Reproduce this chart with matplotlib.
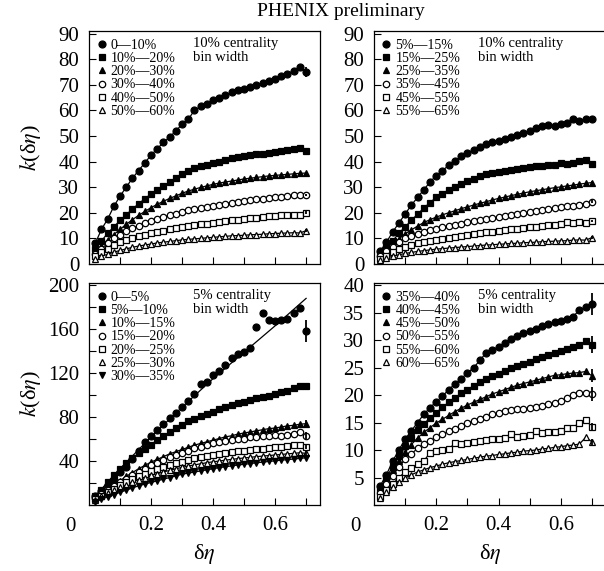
import matplotlib
matplotlib.use("Agg")
import matplotlib.pyplot as plt

plt.rcParams['font.family'] = ['Liberation Serif', 'DejaVu Serif']
plt.rcParams['mathtext.fontset'] = 'stix'

# delta eta bin centres
deta = [0.02, 0.04, 0.06, 0.08, 0.10, 0.12, 0.14, 0.16, 0.18, 0.20,
        0.22, 0.24, 0.26, 0.28, 0.30, 0.32, 0.34, 0.36, 0.38, 0.40,
        0.42, 0.44, 0.46, 0.48, 0.50, 0.52, 0.54, 0.56, 0.58, 0.60,
        0.62, 0.64, 0.66, 0.68, 0.70]

# top left: 10% centrality bins
tl_labels = ["0—10%", "10%—20%", "20%—30%", "30%—40%", "40%—50%", "50%—60%"]
tl_0_10 = [8, 13.5, 17.5, 22.5, 26.5, 30, 33.5, 36.5, 39.5, 42.5, 45, 47.5, 49.5, 52, 54.5, 56.5, 60, 61.5,
           62.5, 64, 65, 66, 67, 67.8, 68.5, 69.3, 70, 70.8, 71.5, 72.3, 73.3, 74.2, 75.5, 77, 75]
tl_10_20 = [6, 9, 12, 14.5, 17, 19.2, 21.5, 23.5, 25.5, 27.3, 29, 30.5, 32, 33.5, 35, 36.3, 37.3, 38.2, 38.8,
            39.3, 40, 40.6, 41.2, 41.7, 42.1, 42.5, 42.8, 43.1, 43.5, 43.8, 44.1, 44.4, 44.8, 45.3, 44.2]
tl_20_30 = [4.5, 7, 9.5, 11.5, 13.5, 15.5, 17.3, 19, 20.5, 22, 23.3, 24.5, 25.6, 26.6, 27.6, 28.5, 29.2, 29.9,
            30.5, 31.1, 31.6, 32, 32.4, 32.8, 33.2, 33.5, 33.8, 34.1, 34.4, 34.6, 34.8, 35, 35.2, 35.4, 35.5]
tl_30_40 = [4, 6, 8, 10, 11.5, 12.8, 14, 15, 16, 16.9, 17.7, 18.4, 19.1, 19.7, 20.3, 20.9, 21.4, 21.9, 22.4,
            22.8, 23.2, 23.6, 24, 24.3, 24.6, 24.9, 25.2, 25.5, 25.8, 26.1, 26.3, 26.5, 26.8, 27, 27]
tl_40_50 = [3, 4.5, 6, 7.3, 8.5, 9.4, 10.2, 10.9, 11.5, 12, 12.5, 13, 13.5, 14, 14.4, 14.8, 15.2, 15.5, 15.8,
            16.1, 16.4, 16.7, 17, 17.3, 17.6, 17.9, 18.1, 18.4, 18.6, 18.8, 19, 19.2, 19.3, 19.3, 20]
tl_50_60 = [2, 3, 3.8, 4.6, 5.3, 5.9, 6.5, 7, 7.4, 7.8, 8.2, 8.5, 8.8, 9.1, 9.4, 9.6, 9.8, 10, 10.2, 10.4,
            10.6, 10.8, 11, 11.1, 11.2, 11.4, 11.5, 11.6, 11.8, 11.9, 12, 12.1, 12.2, 12.1, 13]
tl_err = [2, 0.8, 0.6, 0.5, 0.6, 0.5]

# top right: 10% bins shifted by 5%
tr_labels = ["5%—15%", "15%—25%", "25%—35%", "35%—45%", "45%—55%", "55%—65%"]
tr_5_15 = [5, 8.5, 12.5, 16, 19.5, 23, 26, 29, 32, 34.5, 36.5, 38.5, 40.3, 42, 43.3, 44.5, 45.7, 46.7, 47.5,
           48.2, 48.8, 49.6, 50.3, 51.2, 52, 53, 53.7, 54.2, 54, 54.6, 55, 56.5, 56, 56.6, 56.8]
tr_15_25 = [4, 6.5, 9, 12, 14.5, 17, 19.5, 21.8, 24, 26, 27.5, 29, 30.2, 31.3, 32.3, 33.3, 34.2, 35, 35.5,
            36, 36.4, 36.8, 37.2, 37.6, 37.9, 38.2, 38.4, 38.6, 38.8, 39.5, 39.2, 39.6, 40.3, 40.5, 39]
tr_25_35 = [3.5, 5.5, 7.5, 9.8, 11.8, 13.3, 14.8, 16.2, 17.3, 18.3, 19.2, 20, 20.8, 21.6, 22.3, 23, 23.7,
            24.3, 25, 25.6, 26.1, 26.7, 27.2, 27.7, 28.2, 28.6, 29, 29.4, 29.8, 30.1, 30.5, 30.8, 31.2, 31.5, 31.8]
tr_35_45 = [3, 5, 6.8, 8.5, 10, 11, 11.9, 12.6, 13.2, 13.8, 14.3, 14.8, 15.3, 15.8, 16.2, 16.7, 17.1, 17.5,
            17.9, 18.3, 18.7, 19.1, 19.5, 19.9, 20.3, 20.7, 21, 21.4, 21.7, 22.1, 22.5, 22.8, 23.2, 23.6, 24.3]
tr_45_55 = [2, 3.3, 4.5, 5.7, 6.7, 7.4, 8, 8.5, 9, 9.4, 9.8, 10.2, 10.6, 11, 11.3, 11.7, 12, 12.3, 12.6,
            12.9, 13.2, 13.5, 13.8, 14.1, 14.4, 14.6, 14.9, 15.3, 15.4, 15.6, 16.2, 15.9, 16.3, 16, 16.8]
tr_55_65 = [1.5, 2.3, 3, 3.6, 4.1, 4.5, 4.9, 5.2, 5.5, 5.8, 6, 6.2, 6.4, 6.6, 6.8, 7, 7.2, 7.4, 7.5, 7.7,
            7.8, 8, 8.1, 8.3, 8.4, 8.5, 8.7, 8.8, 8.9, 9, 9.1, 9.3, 9.4, 9.3, 10.3]
tr_err = [1, 1, 0.6, 0.5, 0.5, 0.5]

# bottom left: 5% bins, central
bl_labels = ["0—5%", "5%—10%", "10%—15%", "15%—20%", "20%—25%", "25%—30%", "30%—35%"]
bl_0_5 = [8, 13, 18, 23, 30, 35, 42, 49, 57, 63, 68, 74, 79, 84, 89, 95, 101, 110, 112, 118, 122, 127,
          134, 137, 139, 143, 162, 175, 168, 167, 168, 169, 175, 179, 158]
bl_5_10 = [8, 14, 21, 27, 33, 38, 43, 47, 51, 55, 59, 63, 66.5, 70, 73, 76, 78.5, 81, 83, 85, 87, 89, 91,
           92.5, 94, 95.5, 97, 98, 99.5, 101, 102.5, 104, 106, 108, 108]
bl_10_15 = [6, 10, 14, 18, 22, 26, 29.5, 33, 36, 39, 41.5, 44, 46.5, 48.5, 50.5, 52.5, 54.5, 56, 57.5, 59,
            60.5, 62, 63, 64.5, 65.5, 66.5, 67.5, 68.5, 69.5, 70, 71, 72, 72.5, 73.5, 74]
bl_15_20 = [6, 10, 13.5, 17, 20.5, 24, 27, 30, 33, 36, 38.5, 41, 43.5, 45.5, 47.5, 49.5, 51.5, 53, 54.5,
            56, 57, 58, 59, 60, 60.5, 61.5, 62, 62.5, 63, 63.5, 63, 64, 65, 66, 63]
bl_20_25 = [5, 8.5, 12, 15, 18, 21, 23.5, 26, 28.5, 30.5, 32.5, 34.5, 36.5, 38, 39.5, 41, 42.5, 43.5, 44.5,
            45.5, 46.5, 47.3, 48, 48.7, 49.3, 50, 50.7, 51.3, 52, 52.5, 53, 53.7, 54.3, 55, 53]
bl_25_30 = [4.5, 8, 11, 13.5, 16, 18.5, 21, 23, 25, 27, 28.5, 30, 31.5, 33, 34.2, 35.4, 36.5, 37.5, 38.5,
            39.3, 40, 40.8, 41.5, 42.2, 42.8, 43.4, 44, 44.5, 45, 45.5, 46, 46.5, 47, 47.5, 47]
bl_30_35 = [3, 5, 7.5, 9.5, 11.5, 13.5, 15.5, 17.5, 19, 20.5, 22, 23.5, 25, 26.5, 28, 29, 30, 31, 32, 33,
            34, 34.8, 35.6, 36.4, 37, 37.7, 38.4, 39, 39.6, 40.2, 40.8, 41.3, 41.8, 42.4, 43]
bl_err = [10, 3, 3, 3, 2, 2, 2]
# the 0-5% fit runs straight through the scatter
bl_fit_x = [0.02, 0.1, 0.2, 0.3, 0.4, 0.5, 0.6, 0.7]
bl_fit_0_5 = [8, 33, 62, 89, 115, 139, 163, 188]

# bottom right: 5% bins, peripheral
br_labels = ["35%—40%", "40%—45%", "45%—50%", "50%—55%", "55%—60%", "60%—65%"]
br_35_40 = [3.5, 5.5, 8, 10, 12, 13.5, 15, 16.5, 17.7, 18.8, 19.8, 21, 22, 23, 24, 25, 26.3, 27.7, 28.2,
            28.8, 29.5, 30.2, 30.8, 31.3, 31.7, 32.1, 32.6, 33, 33.3, 33.5, 33.8, 34.3, 35.5, 36, 36.5]
br_40_45 = [3, 5, 7, 9, 10.7, 12.2, 13.6, 14.8, 15.8, 16.8, 17.8, 18.7, 19.5, 20.3, 21, 21.7, 22.3, 22.9,
            23.4, 23.9, 24.4, 24.9, 25.3, 25.7, 26.1, 26.5, 26.9, 27.3, 27.7, 28, 28.4, 28.8, 29.2, 29.8, 29.2]
br_45_50 = [2.8, 4.5, 6.3, 8, 9.6, 11, 12.2, 13.2, 14.1, 14.9, 15.6, 16.3, 17, 17.6, 18.2, 18.7, 19.2, 19.7,
            20.2, 20.6, 21, 21.4, 21.8, 22.1, 22.4, 22.7, 23, 23.3, 23.6, 23.7, 23.9, 24, 24.1, 24.3, 23.5]
br_50_55 = [2.2, 3.8, 5.3, 7, 8.3, 9.3, 10.3, 11.1, 11.7, 12.3, 12.9, 13.4, 13.9, 14.4, 14.9, 15.3, 15.7,
            16.1, 16.5, 16.8, 17.1, 17.3, 17.4, 17.5, 17.6, 17.8, 18, 18.3, 18.6, 18.9, 19.4, 20, 20.3, 20.4, 20.2]
br_55_60 = [1.5, 2.7, 3.8, 5, 6, 6.8, 7.4, 8, 9.5, 9.8, 10, 10.1, 11.3, 11.1, 11.3, 11.5, 11.6, 11.9, 12,
            12, 12.2, 13, 12.3, 12.6, 12.8, 13.4, 13.1, 13.2, 13.2, 13.4, 14, 14.1, 15, 15.5, 14.2]
br_60_65 = [1.3, 2.3, 3.2, 4.2, 4.9, 5.5, 6, 6.4, 6.8, 7.1, 7.4, 7.7, 7.9, 8.1, 8.3, 8.5, 8.7, 8.9, 9, 9.2,
            9.3, 9.5, 9.6, 9.8, 9.9, 10, 10.2, 10.3, 10.5, 10.6, 10.8, 10.9, 11.1, 12.3, 11.5]
br_err = [2, 1.5, 1.2, 1.2, 0.8, 0.6]

markers6 = [('o', True), ('s', True), ('^', True), ('o', False), ('s', False), ('^', False)]
markers7 = markers6 + [('v', True)]

panels = [
    dict(rect=[0.1474, 0.5377, 0.3825, 0.4081], ylim=91, yt=list(range(0, 91, 10)),
         ylab=list(range(0, 91, 10)), labels=tl_labels,
         series=[tl_0_10, tl_10_20, tl_20_30, tl_30_40, tl_40_50, tl_50_60], err=tl_err,
         mk=markers6, note="10% centrality\nbin width", ylabel=True, xlabels=False),
    dict(rect=[0.6192, 0.5377, 0.3840, 0.4081], ylim=91, yt=list(range(0, 91, 10)),
         ylab=list(range(0, 91, 10)), labels=tr_labels,
         series=[tr_5_15, tr_15_25, tr_25_35, tr_35_45, tr_45_55, tr_55_65], err=tr_err,
         mk=markers6, note="10% centrality\nbin width", ylabel=False, xlabels=False),
    dict(rect=[0.1474, 0.1156, 0.3825, 0.3888], ylim=202, yt=list(range(0, 201, 20)),
         ylab=[40, 80, 120, 160, 200], labels=bl_labels,
         series=[bl_0_5, bl_5_10, bl_10_15, bl_15_20, bl_20_25, bl_25_30, bl_30_35], err=bl_err,
         mk=markers7, note="5% centrality\nbin width", ylabel=True, xlabels=True),
    dict(rect=[0.6192, 0.1156, 0.3840, 0.3888], ylim=40.4, yt=list(range(0, 41, 5)),
         ylab=list(range(5, 41, 5)), labels=br_labels,
         series=[br_35_40, br_40_45, br_45_50, br_50_55, br_55_60, br_60_65], err=br_err,
         mk=markers6, note="5% centrality\nbin width", ylabel=False, xlabels=True),
]

fig = plt.figure(figsize=(6.04, 5.71), dpi=100)

for p in panels:
    ax = fig.add_axes(p['rect'])
    for i, (vals, lab) in enumerate(zip(p['series'], p['labels'])):
        m, filled = p['mk'][i]
        fc = 'black' if filled else 'white'
        ms = 5.0 if filled else 4.6
        if vals is bl_0_5:
            ax.plot(bl_fit_x, bl_fit_0_5, color='black', lw=0.9, zorder=2)
        else:
            ax.plot(deta, vals, color='black', lw=0.9, zorder=2)
        ax.plot(deta, vals, ls='none', marker=m, ms=ms, mfc=fc, mec='black', mew=0.9,
                zorder=3, label=lab)
        ax.errorbar(deta[-1], vals[-1], yerr=p['err'][i], fmt='none', ecolor='black',
                    elinewidth=1.3, capsize=0, zorder=3)

    ax.set_xlim(0, 0.745)
    ax.set_ylim(0, p['ylim'])
    ax.set_xticks([0.1, 0.2, 0.3, 0.4, 0.5, 0.6, 0.7])
    if p['xlabels']:
        ax.set_xticklabels(['', '0.2', '', '0.4', '', '0.6', ''])
        ax.annotate('0', xy=(0, 0), xycoords=('data', 'axes fraction'), xytext=(-19, -22),
                    textcoords='offset pixels', ha='center', va='center', fontsize=15)
        ax.set_xlabel(r'δ$\eta$', fontsize=16, labelpad=5)
    else:
        ax.set_xticklabels([])
    ax.set_yticks(p['yt'])
    ax.set_yticklabels([str(v) if v in p['ylab'] else '' for v in p['yt']])
    ax.tick_params(direction='in', length=5, width=0.8, labelsize=15, pad=7)
    ax.tick_params(axis='x', pad=8)
    for s in ax.spines.values():
        s.set_linewidth(0.9)

    if p['ylabel']:
        ax.set_ylabel(r'$k$(δ$\eta$)', fontsize=16)
        ax.yaxis.set_label_coords(-0.2, 0.5)

    ax.legend(loc='upper left', frameon=False, fontsize=10, handlelength=0.7,
              handletextpad=0.3, labelspacing=0.02, borderaxespad=0.25, borderpad=0.3)
    ax.text(0.45, 0.975, p['note'], transform=ax.transAxes, ha='left', va='top',
            fontsize=10.5, linespacing=1.1)

fig.text(0.5646, 0.979, 'PHENIX preliminary', ha='center', va='center', fontsize=14)

fig.savefig('out.png', dpi=100)
